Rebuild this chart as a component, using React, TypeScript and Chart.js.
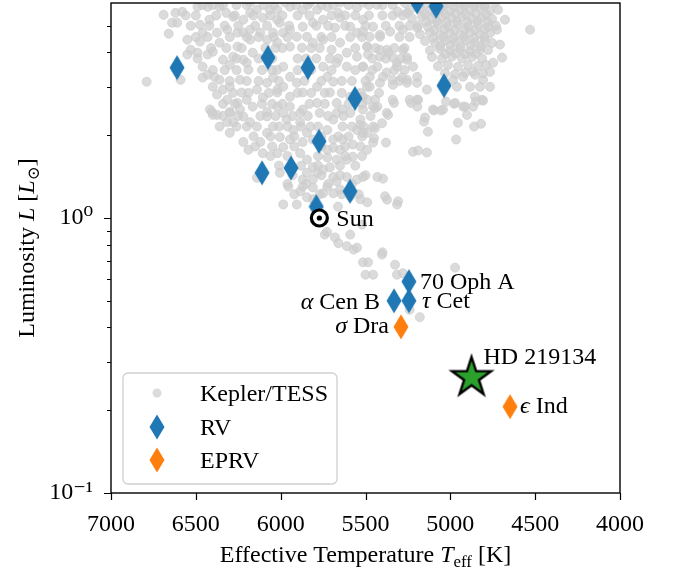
import React, { useEffect, useRef } from 'react';
import { Chart, registerables } from 'chart.js';

Chart.register(...registerables);

const FONT = "'Liberation Serif', 'DejaVu Serif', serif";
const FS = 24;

// ---- Data: [Teff (K), Luminosity (Lsun)] ----
const keplerTess: [number, number][] = [
  // upper-left band
  [6690,5.48],[6620,5.57],[6580,5.62],[6640,5.13],[6610,5.13],[6660,4.68],[6550,4.45],[6530,4.09],[6550,3.93],[6475,5.04],
  [6460,4.72],[6475,4.38],[6490,3.99],[6430,3.93],[6400,4.02],[6460,3.55],[6460,3.24],[6430,3.32],[6790,3.13],[6590,3.18],
  [6490,5.86],[6430,5.86],[6360,5.86],[6320,5.57],[6420,5.26],[6375,4.72],[6360,4.34],[6340,3.76],[6300,3.61],[6280,3.86],
  [6390,3.26],[6360,3.18],[6400,3.00],[6375,2.81],[6340,2.93],[6315,2.69],[6300,3.00],[6240,3.18],[6230,2.86],[6255,2.62],
  [6405,2.43],[6375,2.37],[6300,2.43],[6240,2.48],[6200,2.69],[6165,2.54],[6140,2.93],[6105,2.74],[6080,3.10],[6045,3.24],
  [6020,2.93],[6190,3.46],[6220,3.76],[6165,3.99],[6255,4.20],[6280,5.39],[6220,5.26],[6180,5.57],[6140,5.72],[6105,5.35],
  [6065,5.72],[6020,5.26],[6220,4.72],[6180,4.45],[6120,4.72],[6080,4.45],[6045,4.72],[6255,4.72],[6315,4.84],[6180,4.84],
  [6200,3.67],[6020,3.46],
  // upper-middle
  [6020,5.72],[5945,5.86],[5870,5.72],[5785,5.72],[5725,5.86],[5660,5.57],[5550,5.82],[5310,5.62],[5255,5.57],[5750,5.26],
  [5650,5.35],[5680,4.92],[5590,4.96],[5550,4.72],[5515,4.76],[5475,4.56],[5415,4.64],[5355,4.76],[5280,4.84],[5195,4.92],
  [6005,5.13],[5945,4.84],[5870,4.96],[5810,5.13],[5905,4.56],[5845,4.56],[5985,4.72],[6020,4.34],[5945,4.20],[5875,4.16],
  [5810,4.34],[5750,4.45],[5700,4.09],[5650,4.34],[5610,3.99],[5550,3.86],[5490,4.20],[5415,4.09],[5365,3.99],[5315,3.67],
  [5255,3.76],[5220,3.55],[5515,3.55],[5430,3.55],[5375,3.38],[5475,3.26],[5415,3.10],[5340,3.18],[5255,3.18],[5195,3.26],
  [5985,3.55],[5945,3.26],[5985,3.00],[5905,3.10],[6020,2.86],[5945,2.76],[5870,2.86],[5785,3.00],[5725,3.26],[5690,3.13],
  [5750,3.55],[5670,3.67],[5610,3.55],[6020,2.54],[5945,2.54],[5870,2.48],[5785,2.62],[5710,2.86],[5670,2.62],[5635,2.48],
  [5590,2.76],[5475,3.00],[5490,2.69],[5430,2.54],[5375,2.41],[5340,2.69],[5240,2.69],[5195,2.54],
  [5515,5.26],[5456,4.96],[5414,4.56],[5491,4.20],[5373,4.09],[5279,4.09],[5485,3.93],[5414,3.86],[5338,3.83],[5255,3.83],
  [5515,3.55],[5314,3.55],[5397,3.26],[5285,3.24],[5491,3.00],[5338,3.05],[5255,3.10],[5515,2.76],[5444,2.69],[5456,2.54],
  [5515,2.48],[5515,6.07],[5432,5.96],[5650,6.07],[5827,6.07],[6181,6.07],[5974,6.07],
  // extra fill of the upper band
  [6460,5.95],[6400,5.95],[6340,5.95],[6260,5.95],[6200,5.95],[6100,5.95],[6040,5.95],[5910,5.95],[5840,5.95],[5760,5.95],
  [5690,5.95],[5600,5.95],[5480,5.95],[5400,5.95],[5340,5.95],
  [6560,5.45],[6500,5.45],[6380,5.45],[6270,5.45],[6160,5.45],[6060,5.45],[5990,5.45],[5900,5.45],[5830,5.45],[5700,5.45],
  [5620,5.45],[5560,5.45],[5480,5.45],[5400,5.45],[5340,5.45],[5280,5.45],
  [6530,5.0],[6420,5.0],[6330,5.0],[6250,5.0],[6150,5.0],[6080,5.0],[5950,5.0],[5790,5.0],[5720,5.0],[5620,5.0],
  [5500,5.0],[5380,5.0],[5300,5.0],[5240,5.0],
  [6500,4.55],[6430,4.55],[6300,4.55],[6200,4.55],[6130,4.55],[6040,4.55],[5960,4.55],[5760,4.55],[5700,4.55],[5590,4.55],
  [5520,4.55],[5300,4.55],[5240,4.55],
  [6410,4.15],[6320,4.15],[6230,4.15],[6090,4.15],[6030,4.15],[5990,4.15],[5820,4.15],[5770,4.15],[5560,4.15],[5440,4.15],
  [5330,4.15],[5270,4.15],
  [6490,3.8],[6260,3.8],[6130,3.8],[6050,3.8],[5900,3.8],[5850,3.8],[5790,3.8],[5710,3.8],[5660,3.8],[5460,3.8],
  [5380,3.8],[5290,3.8],
  [6400,3.45],[6330,3.45],[6260,3.45],[6110,3.45],[6050,3.45],[5900,3.45],[5820,3.45],[5700,3.45],[5560,3.45],[5460,3.45],
  [5330,3.45],[5270,3.45],
  [6300,3.15],[6200,3.15],[6130,3.15],[6010,3.15],[5860,3.15],[5760,3.15],[5640,3.15],[5580,3.15],[5500,3.15],[5300,3.15],
  [6280,2.85],[6190,2.85],[6070,2.85],[5900,2.85],[5820,2.85],[5740,2.85],[5640,2.85],[5530,2.85],[5420,2.85],
  [6340,2.6],[6270,2.6],[6110,2.6],[6050,2.6],[5990,2.6],[5830,2.6],[5740,2.6],[5600,2.6],[5520,2.6],
  [6340,2.35],[6250,2.35],[6120,2.35],[6030,2.35],[5930,2.35],[5840,2.35],[5720,2.35],[5630,2.35],[5470,2.35],
  [6260,2.15],[6200,2.15],[6010,2.15],[5960,2.15],[5880,2.15],[5780,2.15],[5580,2.15],[5510,2.15],
  [6160,1.98],[6060,1.98],[5920,1.98],[5760,1.98],[5660,1.98],[5600,1.98],[5520,1.98],
  [6150,1.82],[6050,1.82],[5920,1.82],[5760,1.82],[5620,1.82],[5530,1.82],
  [6060,1.68],[5960,1.68],[5780,1.68],[5620,1.68],[5520,1.68],
  [6010,1.55],[5880,1.55],[5780,1.55],[5650,1.55],[5560,1.55],
  [5930,1.43],[5760,1.43],[5650,1.43],[5500,1.43],
  [5960,1.33],[5850,1.33],[5720,1.33],[5580,1.33],
  [5920,1.22],[5770,1.22],[5640,1.22],[5540,1.22],
  // dense clump (subgiants / giants)
  [5267,6.05],[5208,6.1],[5149,6.0],[5090,6.08],[5031,6.02],[4972,6.1],[4913,6.0],[4855,6.06],[4796,6.0],[4737,6.08],
  [5238,5.7],[5179,5.78],[5120,5.68],[5061,5.75],[5002,5.66],[4943,5.74],[4884,5.7],[4825,5.78],[4766,5.68],[4719,5.72],
  [5226,5.32],[5167,5.4],[5108,5.3],[5049,5.38],[4990,5.33],[4931,5.4],[4872,5.3],[4813,5.36],[4754,5.3],
  [5190,5.02],[5132,4.96],[5073,5.05],[5014,4.98],[4955,5.04],[4896,4.97],[4837,5.03],[4778,4.96],[4731,5.0],
  [5179,4.66],[5120,4.72],[5061,4.64],[5002,4.7],[4943,4.65],[4884,4.72],[4825,4.66],[4766,4.7],
  [5149,4.4],[5090,4.34],[5031,4.41],[4972,4.36],[4913,4.42],[4855,4.35],[4796,4.4],[4754,4.33],
  [5120,4.07],[5061,4.12],[5002,4.06],[4943,4.11],[4884,4.05],[4825,4.1],[4778,4.08],
  [5108,3.85],[5049,3.8],[4990,3.86],[4931,3.81],[4872,3.85],[4813,3.8],
  [5073,3.56],[5014,3.6],[4955,3.55],[4896,3.6],[4837,3.57],[4790,3.6],
  [5031,3.36],[4972,3.33],[4913,3.37],[4855,3.32],[4807,3.35],
  [5100,5.9],[5040,5.92],[4980,5.88],[4920,5.9],[4860,5.93],[4800,5.88],
  [5150,5.52],[5090,5.55],[5030,5.5],[4970,5.54],[4910,5.5],[4850,5.55],[4790,5.5],
  [5140,5.17],[5080,5.2],[5020,5.15],[4960,5.18],[4900,5.15],[4840,5.2],[4780,5.16],
  [5095,4.84],[5035,4.86],[4975,4.82],[4915,4.85],[4855,4.83],[4800,4.86],
  [5100,4.52],[5040,4.55],[4980,4.5],[4920,4.54],[4860,4.51],[4800,4.53],
  [5060,4.23],[5000,4.25],[4940,4.21],[4880,4.24],[4820,4.22],
  [5030,3.95],[4970,3.97],[4910,3.94],[4850,3.96],
  // sparse right edge
  [4678,5.26],[4530,4.84],[4695,3.83],[4748,3.67],[4766,3.00],[4813,2.69],[4855,2.76],[4866,2.54],[4925,2.54],[4972,2.62],
  [5043,2.48],[5102,2.48],[5149,2.32],[5196,2.69],[5138,2.93],[5196,3.10],[4961,3.00],[4884,3.00],[4825,3.00],[4807,3.18],
  [4766,3.40],[4866,3.40],[4925,3.26],[4984,3.18],[4707,4.27],[4725,4.84],
  // below the clump
  [5444,2.51],[5367,2.37],[5403,2.21],[5444,2.12],[5450,1.95],[5379,1.88],[5332,2.62],[5232,2.62],[5190,2.69],[5155,2.24],
  [5132,2.06],[5096,2.46],[5055,2.46],[5025,2.65],[4978,2.60],[4955,2.22],[4966,1.93],[4913,2.54],[4902,2.37],[4860,2.15],
  [4819,2.20],[4849,2.65],[4807,2.67],[5220,1.74],[5190,1.76],[5138,1.73],[5397,1.39],[5385,1.20],[5314,1.12],[5515,2.04],
  [5532,2.18],
  // main-sequence band
  [6400,2.37],[6300,2.41],[6220,2.34],[6180,2.23],[6280,2.23],[6360,2.15],[6300,2.04],[6220,1.89],[6190,1.77],[6120,1.89],
  [6105,1.72],[6080,2.04],[6045,2.15],[6005,1.97],[5985,1.81],[6020,1.72],[5945,1.93],[5925,2.09],[5885,2.23],[5845,2.04],
  [5870,1.89],[5965,2.28],[6080,2.34],[6140,2.15],
  [5825,2.15],[5810,1.93],[5885,1.72],[5845,1.63],[5810,1.53],[5845,1.46],[5870,1.38],[5810,1.38],[5785,1.46],[5725,1.66],
  [5725,1.77],[5690,1.80],[5650,1.77],[5670,1.63],[5710,1.53],[5690,1.41],[5750,1.50],[5610,1.63],[5575,1.67],[5575,1.85],
  [5635,1.93],[5690,1.93],[5725,2.09],[5690,2.28],[5635,2.15],[5550,2.09],[5530,2.28],[5490,2.04],[5455,2.15],[5455,1.88],
  [5490,1.77],[5590,2.41],[5670,2.41],[5770,2.41],[5885,2.41],[5985,2.41],[6080,2.43],
  [6005,1.46],[5955,1.30],[5985,1.12],[5905,1.12],[5885,1.25],[5870,1.30],[5810,1.29],[5810,1.17],[5845,1.19],[5750,1.23],
  [5725,1.30],[5690,1.23],[5670,1.36],[5650,1.27],[5610,1.41],[5550,1.38],[5515,1.41],[5590,1.20],[5530,1.17],[5490,1.14],
  [5430,1.41],[6417,2.48],[6315,2.23],[6140,1.40],
  // below the Sun
  [5740,0.87],[5680,0.85],[5660,0.81],[5590,0.87],[5520,0.946],[5570,0.767],[5550,0.78],[5485,0.69],[5400,0.75],[5500,0.622],
  [5455,0.622],[5326,0.676],[5315,0.622],[5280,0.63],[5308,1.15],[5373,1.166],[5662,1.10],[5515,0.69],[5403,0.736],[4972,0.66],
  [5180,0.436],[5240,0.464],[5727,0.89],[5610,0.79],
];

const rvStars: [number, number][] = [
  [6611,3.52],[6075,3.83],[5839,3.52],[5562,2.72],[5774,1.90],[6110,1.46],[5939,1.52],[5591,1.25],[5790,1.10],
  [5196,6.1],[5084,5.89],[5037,3.03],
  [5244,0.587], // 70 Oph A
  [5332,0.50],  // alpha Cen B
  [5244,0.50],  // tau Cet
];
const eprvStars: [number, number][] = [
  [5291,0.402], // sigma Dra
  [4648,0.206], // epsilon Ind
];
const hd219134: [number, number][] = [[4875,0.263]];
const sun: [number, number][] = [[5772,1.0]];

const seriesNames = ['Kepler/TESS', 'RV', 'EPRV'];
const starNames = ['Sun', '70 Oph A', 'α Cen B', 'τ Cet', 'σ Dra', 'HD 219134', 'ϵ Ind'];
const starAnchors: [number, number][] = [sun[0], rvStars[12], rvStars[13], rvStars[14], eprvStars[0], hd219134[0], eprvStars[1]];

const xTickValues = [7000, 6500, 6000, 5500, 5000, 4500, 4000];
const yMajorValues = [0.1, 1];
const yMinorValues = [0.2, 0.3, 0.4, 0.5, 0.6, 0.7, 0.8, 0.9, 2, 3, 4, 5, 6];
const yTickLabels: Record<string, string> = { '0.1': '10⁻¹', '1': '10⁰' };

// ---- label placement (pixels relative to the anchor) ----
const labelPlacement: Record<string, { dx: number; dy: number; align: 'left' | 'right' }> = {
  'Sun': { dx: 17, dy: 0, align: 'left' },
  '70 Oph A': { dx: 11, dy: -1, align: 'left' },
  'α Cen B': { dx: -14, dy: 0, align: 'right' },
  'τ Cet': { dx: 13, dy: -1, align: 'left' },
  'σ Dra': { dx: -12, dy: -2, align: 'right' },
  'HD 219134': { dx: 12, dy: -21, align: 'left' },
  'ϵ Ind': { dx: 10, dy: -2, align: 'left' },
};

type Seg = { t: string; it?: boolean; sub?: boolean };

function segFont(s: Seg, size: number) {
  const sz = s.sub ? size * 0.7 : size;
  return `${s.it ? 'italic ' : ''}${sz}px ${FONT}`;
}
function measureRich(ctx: CanvasRenderingContext2D, segs: Seg[], size: number) {
  let w = 0;
  for (const s of segs) { ctx.font = segFont(s, size); w += ctx.measureText(s.t).width; }
  return w;
}
function drawRich(ctx: CanvasRenderingContext2D, segs: Seg[], x: number, y: number, align: string, size: number) {
  const w = measureRich(ctx, segs, size);
  let cx = align === 'right' ? x - w : align === 'center' ? x - w / 2 : x;
  ctx.textAlign = 'left';
  ctx.textBaseline = 'alphabetic';
  for (const s of segs) {
    ctx.font = segFont(s, size);
    ctx.fillText(s.t, cx, y + (s.sub ? size * 0.22 : 0));
    cx += ctx.measureText(s.t).width;
  }
}
function nameSegs(name: string): Seg[] {
  const m = name.match(/^([α-ωϵ])(.*)$/);
  if (m) return [{ t: m[1], it: true }, { t: m[2] }];
  return [{ t: name }];
}

function makeDiamond(color: string, w: number, h: number) {
  const c = document.createElement('canvas');
  c.width = w; c.height = h;
  const ctx = c.getContext('2d')!;
  ctx.fillStyle = color;
  ctx.beginPath();
  ctx.moveTo(w / 2, 0.5);
  ctx.lineTo(w - 0.5, h / 2);
  ctx.lineTo(w / 2, h - 0.5);
  ctx.lineTo(0.5, h / 2);
  ctx.closePath();
  ctx.fill();
  return c;
}
function makeStar(fill: string, size: number, R: number) {
  const c = document.createElement('canvas');
  c.width = size; c.height = size;
  const ctx = c.getContext('2d')!;
  const cx = size / 2, cy = size / 2, r = R * 0.382;
  ctx.beginPath();
  for (let i = 0; i < 10; i++) {
    const ang = -Math.PI / 2 + (i * Math.PI) / 5;
    const rad = i % 2 === 0 ? R : r;
    const px = cx + rad * Math.cos(ang), py = cy + rad * Math.sin(ang);
    if (i === 0) ctx.moveTo(px, py); else ctx.lineTo(px, py);
  }
  ctx.closePath();
  ctx.fillStyle = fill;
  ctx.fill();
  ctx.lineWidth = 2.4;
  ctx.lineJoin = 'miter';
  ctx.strokeStyle = '#000';
  ctx.stroke();
  return c;
}

const toXY = (arr: [number, number][]) => arr.map(([x, y]) => ({ x, y }));

export default function App() {
  const ref = useRef<HTMLCanvasElement | null>(null);

  useEffect(() => {
    const canvas = ref.current;
    if (!canvas) return;
    const blueD = makeDiamond('#1f77b4', 16, 26);
    const orangeD = makeDiamond('#ff7f0e', 16, 26);
    const starImg = makeStar('#2ca02c', 50, 20.5);
    const grayFill = 'rgba(205,205,205,0.72)';

    const overlay = {
      id: 'overlay',
      afterDraw(chart: any) {
        const ctx: CanvasRenderingContext2D = chart.ctx;
        const a = chart.chartArea;
        const xs = chart.scales.x, ys = chart.scales.y;
        ctx.save();
        // star labels
        ctx.fillStyle = '#000';
        starNames.forEach((name, i) => {
          const [t, l] = starAnchors[i];
          const p = labelPlacement[name];
          const px = xs.getPixelForValue(t) + p.dx;
          const py = ys.getPixelForValue(l) + p.dy + FS * 0.33;
          drawRich(ctx, nameSegs(name), px, py, p.align, FS);
        });
        // frame
        ctx.strokeStyle = '#000';
        ctx.lineWidth = 1.4;
        ctx.strokeRect(a.left, a.top, a.right - a.left, a.bottom - a.top);
        // ticks
        ctx.lineWidth = 1.2;
        ctx.beginPath();
        xTickValues.forEach(v => {
          const px = Math.round(xs.getPixelForValue(v)) + 0.5;
          ctx.moveTo(px, a.bottom); ctx.lineTo(px, a.bottom + 7);
        });
        yMajorValues.forEach(v => {
          const py = Math.round(ys.getPixelForValue(v)) + 0.5;
          ctx.moveTo(a.left - 7, py); ctx.lineTo(a.left, py);
        });
        yMinorValues.forEach(v => {
          const py = ys.getPixelForValue(v);
          if (py < a.top + 1) return;
          const q = Math.round(py) + 0.5;
          ctx.moveTo(a.left - 4, q); ctx.lineTo(a.left, q);
        });
        ctx.stroke();
        // legend
        const lx = 123, ly = 373, lw = 214, lh = 111, rr = 5;
        ctx.beginPath();
        ctx.moveTo(lx + rr, ly);
        ctx.arcTo(lx + lw, ly, lx + lw, ly + lh, rr);
        ctx.arcTo(lx + lw, ly + lh, lx, ly + lh, rr);
        ctx.arcTo(lx, ly + lh, lx, ly, rr);
        ctx.arcTo(lx, ly, lx + lw, ly, rr);
        ctx.closePath();
        ctx.fillStyle = 'rgba(255,255,255,0.85)';
        ctx.fill();
        ctx.strokeStyle = '#d0d0d0';
        ctx.lineWidth = 1.3;
        ctx.stroke();
        const rows = [393, 427, 460];
        const mx = 157;
        ctx.fillStyle = grayFill;
        ctx.beginPath(); ctx.arc(mx, rows[0], 4.5, 0, Math.PI * 2); ctx.fill();
        ctx.drawImage(blueD, mx - 8, rows[1] - 13);
        ctx.drawImage(orangeD, mx - 8, rows[2] - 13);
        ctx.fillStyle = '#000';
        seriesNames.forEach((n, i) => drawRich(ctx, [{ t: n }], 200, rows[i] + FS * 0.33, 'left', FS));
        // axis titles
        const xc = (a.left + a.right) / 2;
        drawRich(ctx, [{ t: 'Effective Temperature ' }, { t: 'T', it: true }, { t: 'eff', sub: true }, { t: ' [K]' }], xc, 562, 'center', FS);
        ctx.save();
        ctx.translate(34, (a.top + a.bottom) / 2);
        ctx.rotate(-Math.PI / 2);
        drawRich(ctx, [{ t: 'Luminosity ' }, { t: 'L', it: true }, { t: ' [' }, { t: 'L', it: true }, { t: '⊙', sub: true }, { t: ']' }], 0, 0, 'center', FS);
        ctx.restore();
        ctx.restore();
      },
    };

    const chart = new Chart(canvas, {
      type: 'scatter',
      data: {
        datasets: [
          { label: seriesNames[0], data: toXY(keplerTess), pointRadius: 4.5, backgroundColor: grayFill, borderColor: grayFill, borderWidth: 1, order: 6, clip: 0 } as any,
          { label: seriesNames[1], data: toXY(rvStars), pointStyle: blueD, pointRadius: 12, order: 5, clip: 0 } as any,
          { label: seriesNames[2], data: toXY(eprvStars), pointStyle: orangeD, pointRadius: 12, order: 4, clip: 0 } as any,
          { label: 'HD 219134', data: toXY(hd219134), pointStyle: starImg, pointRadius: 20, order: 3, clip: 0 } as any,
          { label: 'Sun', data: toXY(sun), pointStyle: 'circle', pointRadius: 8, borderWidth: 3.2, borderColor: '#000', backgroundColor: '#fff', order: 2 } as any,
          { label: 'Sun core', data: toXY(sun), pointStyle: 'circle', pointRadius: 2.6, borderWidth: 0, backgroundColor: '#000', order: 1 } as any,
        ],
      },
      options: {
        responsive: false,
        animation: false,
        events: [],
        layout: { autoPadding: false, padding: { left: 0, right: 53, top: 3, bottom: 0 } },
        plugins: { legend: { display: false }, tooltip: { enabled: false }, title: { display: false } },
        scales: {
          x: {
            type: 'linear', min: 4000, max: 7000, reverse: true, position: 'bottom',
            afterBuildTicks: (s: any) => { s.ticks = xTickValues.map(v => ({ value: v })); },
            afterFit: (s: any) => { s.height = 77; s.paddingLeft = 0; s.paddingRight = 0; },
            grid: { display: false, drawTicks: false },
            border: { display: false },
            ticks: { font: { family: FONT, size: FS }, color: '#000', padding: 17, maxRotation: 0, autoSkip: false, callback: (v: any) => String(v) },
          },
          y: {
            type: 'logarithmic', min: 0.1, max: 6.05, position: 'left',
            afterBuildTicks: (s: any) => { s.ticks = yMajorValues.map(v => ({ value: v, major: true })); },
            afterFit: (s: any) => { s.width = 111; s.paddingTop = 0; s.paddingBottom = 0; },
            grid: { display: false, drawTicks: false },
            border: { display: false },
            ticks: { font: { family: FONT, size: FS }, color: '#000', padding: 18, autoSkip: false, callback: (v: any) => yTickLabels[String(v)] ?? '' },
          },
        },
      } as any,
      plugins: [overlay],
    });
    return () => chart.destroy();
  }, []);

  return (
    <div style={{ position: 'absolute', left: 0, top: 0, width: 673, height: 570, background: '#fff' }}>
      <canvas ref={ref} width={673} height={570} style={{ display: 'block' }} />
    </div>
  );
}
